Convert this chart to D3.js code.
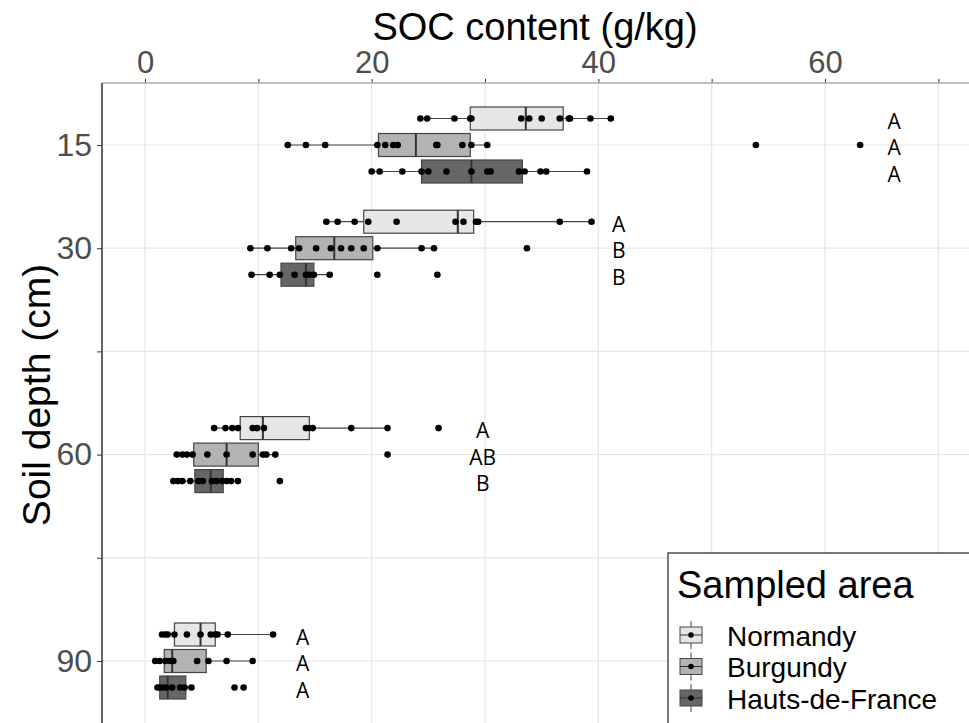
<!DOCTYPE html>
<html>
<head>
<meta charset="utf-8">
<script src="https://cdn.jsdelivr.net/npm/d3@7"></script>
<style>
  body { margin: 0; background: #fff; }
  text { font-family: "Liberation Sans", Arial, sans-serif; }
</style>
</head>
<body>
<div id="plot"></div>
<script>
// data
var depths = [15, 30, 60, 90];
var areas = ["Normandy", "Burgundy", "Hauts-de-France"];

// box stats per depth: [whisker low, q1, median, q3, whisker high]
var normandyStats = [
  [24.3, 28.7, 33.6, 36.9, 41.1],
  [16.0, 19.3, 27.6, 29.0, 39.4],
  [6.1, 8.4, 10.4, 14.5, 21.4],
  [1.5, 2.6, 4.9, 6.2, 11.3]
];
var burgundyStats = [
  [12.6, 20.6, 23.9, 28.7, 30.2],
  [9.3, 13.3, 16.7, 20.1, 25.5],
  [2.8, 4.3, 7.2, 10.0, 11.5],
  [0.9, 1.7, 2.4, 5.4, 9.5]
];
var hdfStats = [
  [20.0, 24.4, 28.8, 33.3, 39.0],
  [9.4, 12.0, 14.2, 14.9, 16.3],
  [2.5, 4.4, 5.8, 6.9, 8.2],
  [1.1, 1.3, 2.0, 3.6, 4.1]
];

// individual samples per depth
var normandyPts = [
  [24.3, 24.9, 27.3, 28.7, 28.8, 33.2, 33.9, 35.0, 36.6, 37.4, 37.5, 39.3, 41.1],
  [16.0, 17.0, 18.5, 19.7, 22.2, 27.4, 28.1, 29.2, 29.4, 36.6, 39.4],
  [6.1, 7.1, 7.7, 8.2, 9.5, 9.9, 10.5, 14.2, 14.5, 14.8, 18.2, 21.4, 25.9],
  [1.5, 1.8, 2.0, 2.6, 3.7, 4.9, 5.8, 6.2, 6.4, 7.3, 11.3]
];
var burgundyPts = [
  [12.6, 14.2, 15.9, 20.5, 21.2, 21.9, 22.3, 25.7, 25.8, 28.0, 28.8, 30.2, 53.9, 63.1],
  [9.3, 10.8, 12.9, 13.6, 15.1, 16.4, 17.3, 18.2, 19.3, 20.5, 24.4, 25.5, 33.7],
  [2.8, 3.3, 3.7, 4.2, 5.5, 7.2, 9.5, 10.4, 10.7, 11.5, 21.4],
  [0.9, 1.3, 1.8, 2.2, 2.5, 4.6, 5.6, 7.2, 9.5]
];
var hdfPts = [
  [20.0, 20.7, 22.7, 24.4, 25.0, 26.6, 28.8, 30.2, 30.5, 33.0, 33.5, 34.9, 35.4, 39.0],
  [9.4, 11.0, 11.9, 13.2, 14.2, 14.5, 14.9, 16.3, 20.5, 25.8],
  [2.5, 2.9, 3.3, 4.0, 4.7, 5.1, 5.9, 6.3, 6.8, 7.2, 7.6, 8.2, 11.9],
  [1.1, 1.3, 1.6, 1.9, 2.4, 3.1, 3.5, 4.1, 7.9, 8.7]
];

// significance letters per depth (Normandy, Burgundy, Hauts-de-France) and their x position
var letters = [["A", "A", "A"], ["A", "B", "B"], ["A", "AB", "B"], ["A", "A", "A"]];
var letterX = [66.1, 41.8, 29.8, 13.9];

var xTicks = [0, 10, 20, 30, 40, 50, 60, 70];
var xLabels = ["0", "", "20", "", "40", "", "60", ""];
var yTicks = [15, 30, 45, 60, 75, 90];
var yLabels = ["15", "30", "", "60", "", "90"];

var W = 969, H = 723;
var panel = {left: 102, top: 83};

var svg = d3.select("div#plot")
  .append("svg")
    .attr("width", W)
    .attr("height", H);

var x = d3.scaleLinear().domain([0, 60]).range([145, 825]);
var y = d3.scaleLinear().domain([15, 90]).range([145, 661]);
var dodge = d3.scalePoint().domain(areas).range([-26.5, 26.5]);
var color = d3.scaleOrdinal().domain(areas).range(["#e6e6e6", "#b3b3b3", "#666666"]);

var statsByArea = {"Normandy": normandyStats, "Burgundy": burgundyStats, "Hauts-de-France": hdfStats};
var ptsByArea = {"Normandy": normandyPts, "Burgundy": burgundyPts, "Hauts-de-France": hdfPts};

// gridlines
svg.append("g").selectAll("line")
  .data(xTicks).enter().append("line")
    .attr("x1", d => x(d)).attr("x2", d => x(d))
    .attr("y1", panel.top).attr("y2", H)
    .attr("stroke", "#e6e6e6").attr("stroke-width", 1.2);
svg.append("g").selectAll("line")
  .data(yTicks).enter().append("line")
    .attr("x1", panel.left).attr("x2", W)
    .attr("y1", d => y(d)).attr("y2", d => y(d))
    .attr("stroke", "#e6e6e6").attr("stroke-width", 1.2);

// axes
var xAxis = svg.append("g")
  .attr("transform", "translate(0," + panel.top + ")")
  .call(d3.axisTop(x).tickValues(xTicks).tickSize(4).tickPadding(6)
    .tickFormat((d, i) => xLabels[i]));
xAxis.select(".domain").remove();
xAxis.selectAll("line").attr("stroke", "#333");
xAxis.selectAll("text").attr("fill", "#4d4d4d")
  .style("font-size", "31px").style("font-family", "Liberation Sans, Arial, sans-serif");

var yAxis = svg.append("g")
  .attr("transform", "translate(" + panel.left + ",0)")
  .call(d3.axisLeft(y).tickValues(yTicks).tickSize(5).tickPadding(5)
    .tickFormat((d, i) => yLabels[i]));
yAxis.select(".domain").remove();
yAxis.selectAll("line").attr("stroke", "#333");
yAxis.selectAll("text").attr("fill", "#4d4d4d")
  .style("font-size", "32px").style("font-family", "Liberation Sans, Arial, sans-serif");

svg.append("line")
  .attr("x1", panel.left).attr("x2", W)
  .attr("y1", panel.top).attr("y2", panel.top)
  .attr("stroke", "#aaa").attr("stroke-width", 1.5);
svg.append("line")
  .attr("x1", panel.left).attr("x2", panel.left)
  .attr("y1", panel.top).attr("y2", H)
  .attr("stroke", "#333").attr("stroke-width", 1.5);

// axis titles
svg.append("text")
  .attr("x", 535).attr("y", 40)
  .attr("text-anchor", "middle")
  .style("font-size", "38px")
  .text("SOC content (g/kg)");

svg.append("text")
  .attr("transform", "translate(50,395) rotate(-90)")
  .attr("text-anchor", "middle")
  .style("font-size", "39px")
  .text("Soil depth (cm)");

// boxplots
var boxH = 23;
var rows = [];
depths.forEach(function(dep, i) {
  areas.forEach(function(a, j) {
    rows.push({depth: dep, area: a, s: statsByArea[a][i], pts: ptsByArea[a][i], letter: letters[i][j], lx: letterX[i]});
  });
});

var g = svg.append("g").selectAll("g")
  .data(rows).enter().append("g")
    .attr("transform", d => "translate(0," + (y(d.depth) + dodge(d.area)) + ")");

g.append("line")
  .attr("x1", d => x(d.s[0])).attr("x2", d => x(d.s[4]))
  .attr("y1", 0).attr("y2", 0)
  .attr("stroke", "#444").attr("stroke-width", 1.2);

g.append("rect")
  .attr("x", d => x(d.s[1]))
  .attr("width", d => x(d.s[3]) - x(d.s[1]))
  .attr("y", -boxH / 2).attr("height", boxH)
  .attr("fill", d => color(d.area))
  .attr("stroke", "#444").attr("stroke-width", 1.2);

g.append("line")
  .attr("x1", d => x(d.s[2])).attr("x2", d => x(d.s[2]))
  .attr("y1", -boxH / 2).attr("y2", boxH / 2)
  .attr("stroke", "#333").attr("stroke-width", 2);

g.selectAll("circle")
  .data(d => d.pts).enter().append("circle")
    .attr("cx", d => x(d)).attr("cy", 0)
    .attr("r", 3.3)
    .attr("fill", "#000");

g.append("text")
  .attr("x", d => x(d.lx)).attr("y", 2)
  .attr("text-anchor", "middle")
  .attr("dominant-baseline", "central")
  .style("font-family", "Open Sans, sans-serif")
  .style("font-size", "21px")
  .text(d => d.letter);

// legend
var leg = svg.append("g");
leg.append("rect")
  .attr("x", 668).attr("y", 553)
  .attr("width", 320).attr("height", 190)
  .attr("fill", "#fff").attr("stroke", "#222").attr("stroke-width", 1.2);
leg.append("text")
  .attr("x", 677).attr("y", 598)
  .style("font-size", "38px")
  .text("Sampled area");

var keyY = d3.scalePoint().domain(areas).range([635, 698]);
var key = leg.selectAll("g.key")
  .data(areas).enter().append("g")
    .attr("class", "key")
    .attr("transform", d => "translate(691," + keyY(d) + ")");
key.append("line")
  .attr("x1", 0).attr("x2", 0).attr("y1", -14).attr("y2", 14)
  .attr("stroke", "#444");
key.append("rect")
  .attr("x", -11).attr("y", -8).attr("width", 22).attr("height", 16)
  .attr("fill", d => color(d)).attr("stroke", "#444");
key.append("line")
  .attr("x1", -11).attr("x2", 11).attr("y1", 0).attr("y2", 0)
  .attr("stroke", "#333");
key.append("circle").attr("r", 2.8).attr("fill", "#000");
key.append("text")
  .attr("x", 36).attr("y", 1)
  .attr("dominant-baseline", "central")
  .style("font-size", "28px")
  .text(d => d);
</script>
</body>
</html>
